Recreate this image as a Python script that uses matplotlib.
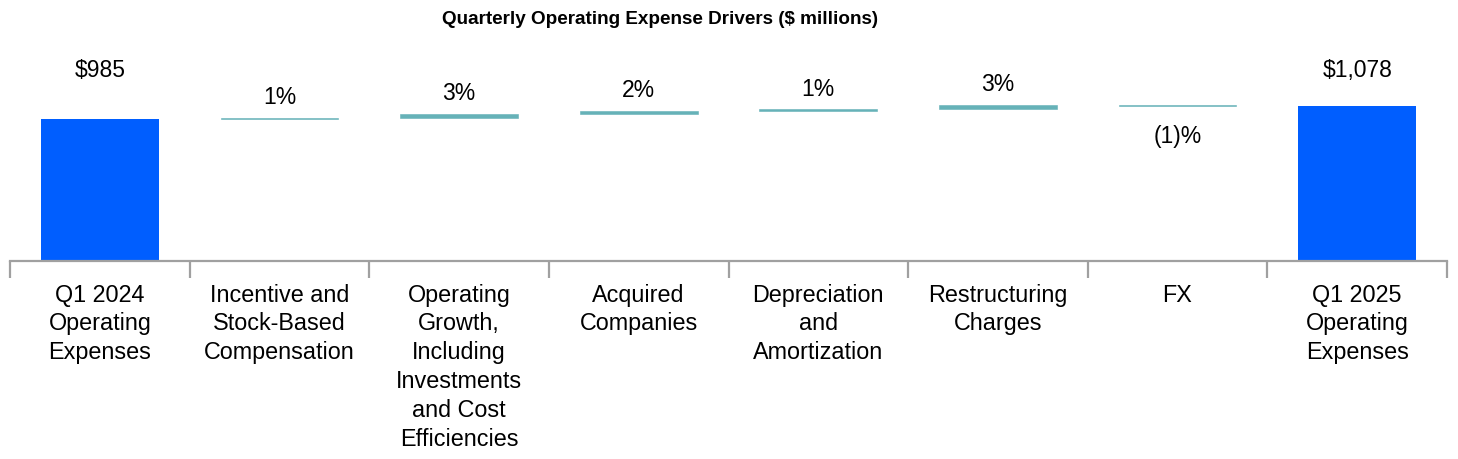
import matplotlib
matplotlib.use("Agg")
import matplotlib.pyplot as plt
import numpy as np

plt.rcParams['font.family'] = ['Liberation Sans', 'DejaVu Sans']

categories = [
    "Q1 2024\nOperating\nExpenses",
    "Incentive and\nStock-Based\nCompensation",
    "Operating\nGrowth,\nIncluding\nInvestments\nand Cost\nEfficiencies",
    "Acquired\nCompanies",
    "Depreciation\nand\nAmortization",
    "Restructuring\nCharges",
    "FX",
    "Q1 2025\nOperating\nExpenses",
]
start_total = 985
end_total = 1078
step_values = [10, 30, 20, 10, 30, -7]
step_labels = ["1%", "3%", "2%", "1%", "3%", "(1)%"]
total_labels = ["$985", "$1,078"]

BLUE = "#005EFF"
TEAL = "#66B2B8"
GRAY = "#A0A0A0"
FS = 16.5
TFS = 16.8

fig = plt.figure(figsize=(14.58, 4.6), dpi=100)
ax = fig.add_axes([10/1458, (460-262)/460, (1447-10)/1458, 222/460])

x = np.arange(len(categories))
bw = 0.655

# totals
ax.bar([x[0], x[-1]], [start_total, end_total], width=bw, color=BLUE, zorder=2)

# steps
cum = start_total
for i, v in enumerate(step_values):
    xi = x[i + 1]
    bottom = cum if v >= 0 else cum + v
    ax.bar(xi, abs(v), bottom=bottom, width=bw, color=TEAL,
           edgecolor=TEAL, linewidth=0.4, zorder=2)
    if v >= 0:
        ax.annotate(step_labels[i], (xi, cum + v), xytext=(0, 7),
                    textcoords="offset points", ha="center", va="bottom",
                    fontsize=FS, color="black")
    else:
        ax.annotate(step_labels[i], (xi, cum + v), xytext=(0, -13),
                    textcoords="offset points", ha="center", va="top",
                    fontsize=FS, color="black")
    cum += v

label_y = end_total * 1.235
ax.text(x[0], label_y, total_labels[0], ha="center", va="center", fontsize=FS)
ax.text(x[-1], label_y, total_labels[1], ha="center", va="center", fontsize=FS)

ax.set_xlim(-0.5, len(categories) - 0.5)
ax.set_ylim(0, end_total * 1.432)

for s in ["top", "right", "left"]:
    ax.spines[s].set_visible(False)
ax.spines["bottom"].set_color(GRAY)
ax.spines["bottom"].set_linewidth(1.6)
ax.set_yticks([])

ax.set_xticks(np.arange(-0.5, len(categories), 1.0))
ax.set_xticklabels([])
ax.tick_params(axis="x", which="major", length=12, width=1.6, color=GRAY,
               direction="out")
ax.set_xticks(x, minor=True)
ax.set_xticklabels(categories, minor=True, fontsize=TFS, linespacing=1.33)
ax.tick_params(axis="x", which="minor", length=0, pad=15.5)

fig.text(660/1458, 1 - 19/460, "Quarterly Operating Expense Drivers ($ millions)",
         ha="center", va="center", fontsize=13.6, fontweight="bold")

fig.savefig("out.png", dpi=100)
